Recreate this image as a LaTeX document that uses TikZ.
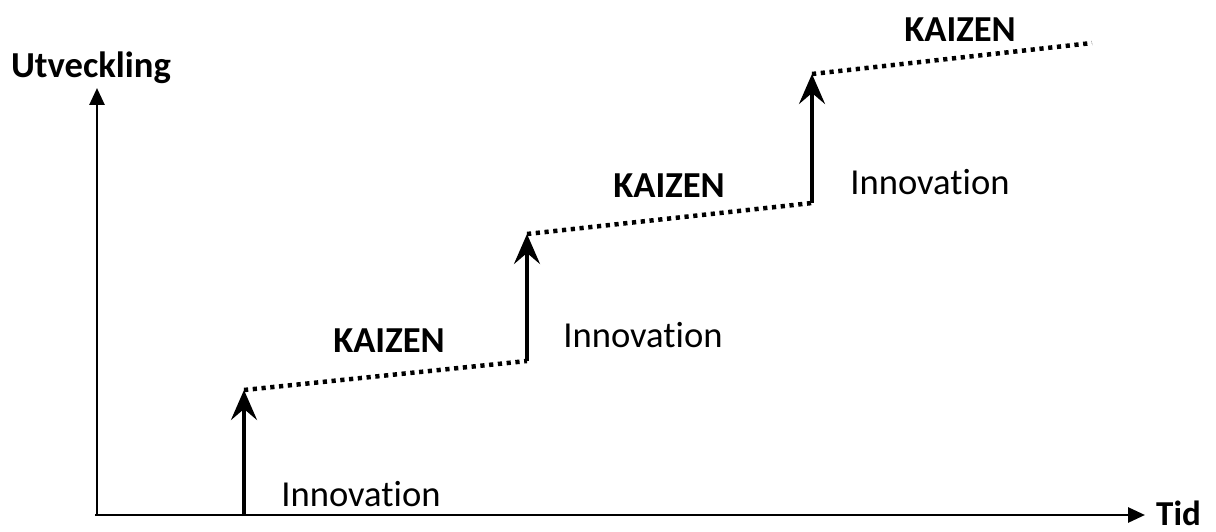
\documentclass[tikz,border=0pt]{standalone}
\usepackage{fontspec}
\setmainfont{Carlito}[Ligatures={NoCommon}]
\usetikzlibrary{arrows.meta}
\begin{document}
\begin{tikzpicture}[x=1pt,y=-1pt,
  axis/.style={line width=2.8pt,-{Triangle[length=17pt,width=15pt]}},
  jump/.style={line width=3.6pt,-{Stealth[length=30pt,width=26pt,inset=11pt]}},
  kaizenline/.style={line width=4.5pt,dash pattern=on 4.2pt off 4.6pt},
  lbl/.style={font=\fontsize{36.6}{40}\selectfont,inner sep=0pt},
  blbl/.style={lbl,font=\fontsize{36.6}{40}\selectfont\bfseries}]
\useasboundingbox (0,0) rectangle (1216,532);
\coordinate (o) at (97,515);
\coordinate (xe) at (1145,515);
\coordinate (ye) at (97,88);
\draw[axis] (95,515) -- (xe);
\draw[axis] (o) -- (ye);
\node[blbl,anchor=base west,font=\fontsize{35}{40}\selectfont\bfseries] (tid) at (1156,525) {Tid};
\node[blbl] (utv) at (91,68) {Utveckling};
% step 1
\coordinate (b1) at (244,516);
\coordinate (t1) at (244,390);
\coordinate (e1) at (527,361);
\draw[jump] (b1) -- (t1);
\draw[kaizenline] (t1) -- (e1);
% step 2
\coordinate (t2) at (527,234);
\coordinate (e2) at (812,203);
\draw[jump] (e1) -- (t2);
\draw[kaizenline] (t2) -- (e2);
% step 3
\coordinate (t3) at (812,74);
\coordinate (e3) at (1092,43);
\draw[jump] (e2) -- (t3);
\draw[kaizenline] (t3) -- (e3);
% labels
\node[lbl] (in1) at (361,494) {Innovation};
\node[blbl] (k1) at (389,341) {KAIZEN};
\node[lbl] (in2) at (643,335) {Innovation};
\node[blbl] (k2) at (669,186) {KAIZEN};
\node[lbl] (in3) at (930,182) {Innovation};
\node[blbl] (k3) at (960,30) {KAIZEN};
\end{tikzpicture}
\end{document}
